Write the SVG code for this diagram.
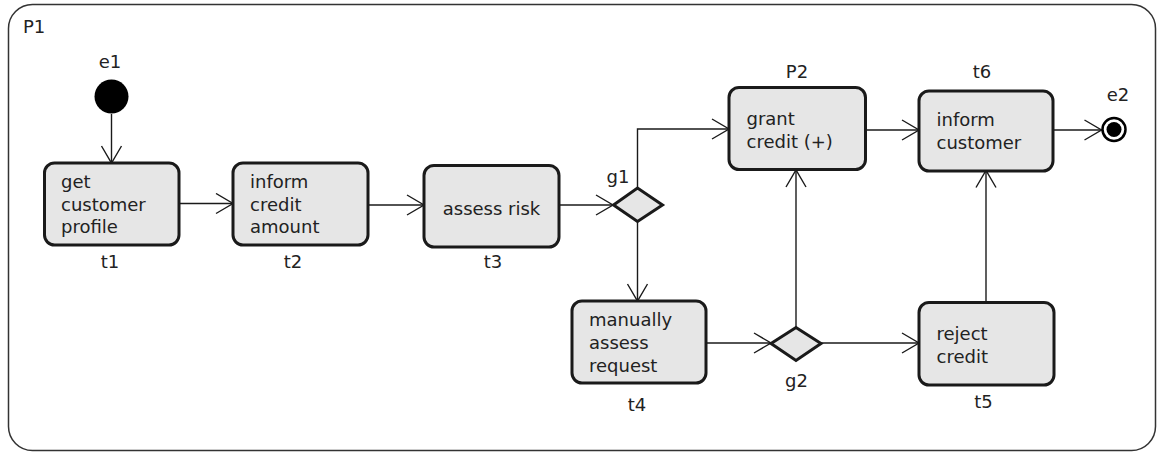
<svg xmlns="http://www.w3.org/2000/svg" width="1157" height="452" viewBox="0 0 1157 452">
<style>
.box{fill:#e6e6e6;stroke:#1a1a1a;stroke-width:3}
.gw{fill:#e6e6e6;stroke:#1a1a1a;stroke-width:3;stroke-linejoin:miter}
.t{font-family:"DejaVu Sans","Liberation Sans",sans-serif;font-size:18px;fill:#222}
.c{text-anchor:middle}
.edge{fill:none;stroke:#1a1a1a;stroke-width:1.4;marker-end:url(#arr)}
</style>
<defs>
<marker id="arr" markerUnits="userSpaceOnUse" markerWidth="22" markerHeight="24" refX="18" refY="11" orient="auto">
<path d="M1,1 L18,11 L1,21" fill="none" stroke="#1a1a1a" stroke-width="1.4"/>
</marker>
</defs>
<g id="P1">
<rect x="8.5" y="4.5" width="1147" height="446" rx="24" ry="24" fill="#fff" stroke="#333" stroke-width="1.5"/>
<text class="t" x="23" y="33">P1</text>
</g>
<g id="connectors">
<path class="edge" d="M111.5,114 L111.5,163"/>
<path class="edge" d="M179,203.5 L233,203.5"/>
<path class="edge" d="M368,205 L424,205"/>
<path class="edge" d="M559,205 L613,205"/>
<path class="edge" d="M637.5,188 L637.5,129 L729,129"/>
<path class="edge" d="M637.5,221 L637.5,301"/>
<path class="edge" d="M865.5,130 L919,130"/>
<path class="edge" d="M1053,130 L1101.5,130"/>
<path class="edge" d="M706,343 L771,343"/>
<path class="edge" d="M796,327.5 L796,170"/>
<path class="edge" d="M821,343 L919,343"/>
<path class="edge" d="M986,302 L986,170.5"/>
</g>
<g id="e1">
<circle cx="111.5" cy="96.5" r="17" fill="#000"/>
<text class="t c" x="110" y="68">e1</text>
</g>
<g id="t1">
<rect class="box" x="44.5" y="163" width="134.5" height="82" rx="10"/>
<text class="t" x="61" y="188">get</text>
<text class="t" x="61" y="211">customer</text>
<text class="t" x="61" y="233">profile</text>
<text class="t c" x="110" y="268">t1</text>
</g>
<g id="t2">
<rect class="box" x="233" y="163" width="135" height="82" rx="10"/>
<text class="t" x="250" y="188">inform</text>
<text class="t" x="250" y="211">credit</text>
<text class="t" x="250" y="233">amount</text>
<text class="t c" x="293" y="268">t2</text>
</g>
<g id="t3">
<rect class="box" x="424" y="165.5" width="135" height="81.5" rx="10"/>
<text class="t c" x="491.5" y="215">assess risk</text>
<text class="t c" x="493" y="268">t3</text>
</g>
<g id="g1">
<polygon class="gw" points="613.5,205 637.5,188 662.5,205 637.5,221.5"/>
<text class="t c" x="618" y="183">g1</text>
</g>
<g id="P2">
<rect class="box" x="729" y="87.5" width="136.5" height="82" rx="10"/>
<text class="t" x="746.5" y="125">grant</text>
<text class="t" x="746.5" y="147.5">credit (+)</text>
<text class="t c" x="797" y="78">P2</text>
</g>
<g id="t6">
<rect class="box" x="919" y="91" width="134" height="80" rx="10"/>
<text class="t" x="936.5" y="126">inform</text>
<text class="t" x="936.5" y="148.5">customer</text>
<text class="t c" x="982" y="78">t6</text>
</g>
<g id="e2">
<circle cx="1114" cy="129.5" r="11.5" fill="#fff" stroke="#000" stroke-width="2.5"/>
<circle cx="1114" cy="129.5" r="7.5" fill="#000"/>
<text class="t c" x="1118" y="101">e2</text>
</g>
<g id="t4">
<rect class="box" x="572" y="301" width="134" height="82" rx="10"/>
<text class="t" x="589" y="326">manually</text>
<text class="t" x="589" y="349">assess</text>
<text class="t" x="589" y="371.5">request</text>
<text class="t c" x="637" y="411">t4</text>
</g>
<g id="g2">
<polygon class="gw" points="771,343.5 796,327.5 821,343.5 796,360.5"/>
<text class="t c" x="796.5" y="387">g2</text>
</g>
<g id="t5">
<rect class="box" x="919" y="302.5" width="135" height="82.5" rx="10"/>
<text class="t" x="936.5" y="340">reject</text>
<text class="t" x="936.5" y="362.5">credit</text>
<text class="t c" x="983.5" y="408">t5</text>
</g>
</svg>
